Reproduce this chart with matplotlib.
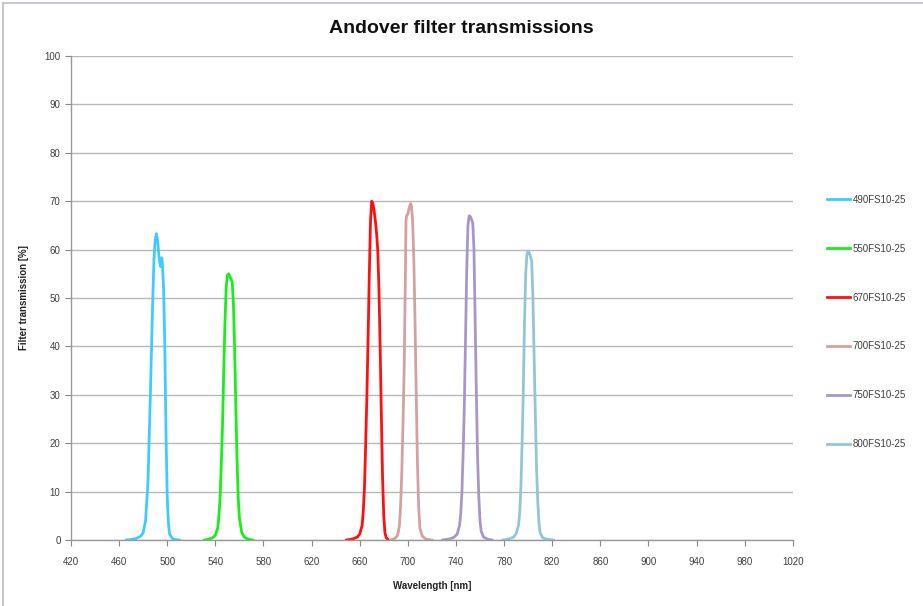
import numpy as np
import matplotlib
matplotlib.use('agg')
import matplotlib.pyplot as plt
from matplotlib.lines import Line2D

# filter transmission curves
wl_490 = [466, 470, 474, 478, 480, 482, 484, 486, 488, 489, 490, 491, 492, 493, 494, 494.5,
          495, 495.5, 496, 497, 498, 499, 500, 501, 502, 504, 506, 510]
tr_490 = [0, 0.1, 0.3, 0.8, 1.5, 4, 12, 30, 50, 58, 62, 63.3, 62, 59, 57, 56.5,
          57.5, 58.3, 57, 52, 40, 22, 9, 3.5, 1.2, 0.4, 0.1, 0]

wl_550 = [531, 535, 538, 540, 542, 543, 544, 545, 546, 547, 548, 549, 550, 551, 552, 553,
          554, 555, 556, 557, 558, 559, 560, 562, 564, 567, 571]
tr_550 = [0, 0.2, 0.5, 1, 2.5, 5, 9, 16, 24, 35, 45, 52, 54.7, 55, 54.5, 54,
          53.3, 49, 40, 28, 17, 9, 4.5, 1.5, 0.6, 0.2, 0]

wl_670 = [649, 654, 658, 660, 662, 663, 664, 665, 666, 667, 668, 669, 670, 671, 672, 673,
          674, 675, 676, 677, 678, 679, 680, 681, 682, 684]
tr_670 = [0, 0.2, 0.6, 1.2, 3, 6, 11, 20, 30, 42, 55, 66, 70, 69.5, 68, 66,
          63.5, 60, 52, 40, 26, 13, 5, 1.5, 0.5, 0]

wl_700 = [686, 689, 691, 692, 693, 694, 695, 696, 697, 698, 698.5, 699, 700, 701, 702, 702.5,
          703, 704, 705, 706, 707, 708, 709, 710, 712, 715, 720]
tr_700 = [0, 0.3, 0.8, 1.5, 3, 7, 14, 24, 36, 55, 66, 67, 67.3, 68.5, 69.3, 69.5,
          69, 66, 58, 45, 30, 16, 7, 2.5, 0.8, 0.2, 0]

wl_750 = [729, 734, 738, 741, 743, 744, 745, 746, 747, 748, 749, 750, 751, 752, 753, 754,
          755, 756, 757, 758, 759, 760, 761, 763, 766, 770]
tr_750 = [0, 0.2, 0.5, 1.2, 3, 5.5, 10, 18, 28, 42, 56, 65, 67, 66.8, 66.2, 65.5,
          60, 45, 30, 17, 9, 4, 1.8, 0.6, 0.2, 0]

wl_800 = [779, 784, 788, 790, 792, 793, 794, 795, 796, 797, 798, 799, 800, 801, 802, 803,
          804, 805, 806, 807, 808, 809, 810, 812, 815, 821]
tr_800 = [0, 0.2, 0.6, 1.3, 3, 5.5, 11, 20, 31, 45, 55, 59, 59.7, 59.3, 58.5, 57.5,
          50, 38, 26, 15, 8, 3.5, 1.5, 0.5, 0.2, 0]

labels = ['490FS10-25', '550FS10-25', '670FS10-25', '700FS10-25', '750FS10-25', '800FS10-25']
colors = ['#3fcbff', '#1aee1a', '#ff1010', '#d4a0a0', '#a996c8', '#92c6d6']
x_ticks = list(range(420, 1021, 40))
y_ticks = list(range(0, 101, 10))

plt.rcParams['font.family'] = ['Liberation Sans', 'DejaVu Sans']

fig = plt.figure(figsize=[9.23, 6.06], dpi=100)
ax = fig.add_axes([0.0769, 0.1089, 0.782, 0.7987])

series = [(wl_490, tr_490), (wl_550, tr_550), (wl_670, tr_670),
          (wl_700, tr_700), (wl_750, tr_750), (wl_800, tr_800)]
for (x, y), lab, col in zip(series, labels, colors):
    ax.plot(x, y, color=col, linewidth=2.0, label=lab, solid_joinstyle='round')

ax.set_xlim(420, 1020)
ax.set_ylim(0, 100)
ax.set_xticks(x_ticks)
ax.set_yticks(y_ticks)
ax.tick_params(axis='both', labelsize=7, colors='#888888', labelcolor='#404040',
               length=4, width=0.8)
ax.tick_params(axis='x', pad=8)
ax.grid(axis='y', color='#b8b8b8', linewidth=1)
ax.set_axisbelow(True)
for s in ['top', 'right']:
    ax.spines[s].set_visible(False)
for s in ['left', 'bottom']:
    ax.spines[s].set_color('#999999')
    ax.spines[s].set_linewidth(1)

ax.set_xlabel('Wavelength [nm]', fontsize=7, fontweight='bold', labelpad=10, color='#222222')
ax.set_ylabel('Filter transmission [%]', fontsize=7, fontweight='bold', labelpad=11, color='#222222')
fig.text(0.5, 0.953, 'Andover filter transmissions', ha='center', va='center',
         fontsize=14, fontweight='bold', color='#111111')

fig.legend(loc='upper left', bbox_to_anchor=(0.887, 0.693), frameon=False, fontsize=7,
           labelspacing=4.0, handlelength=2.3, handletextpad=0.3, labelcolor='#404040')

# thin frame of the original screenshot
fig.add_artist(Line2D([0.003, 1], [0.995, 0.995], transform=fig.transFigure,
                      color='#c8c8dc', linewidth=1.5))
fig.add_artist(Line2D([0.003, 0.003], [0, 0.995], transform=fig.transFigure,
                      color='#c8c8c8', linewidth=1.5))

plt.savefig('out.png', format='png')
